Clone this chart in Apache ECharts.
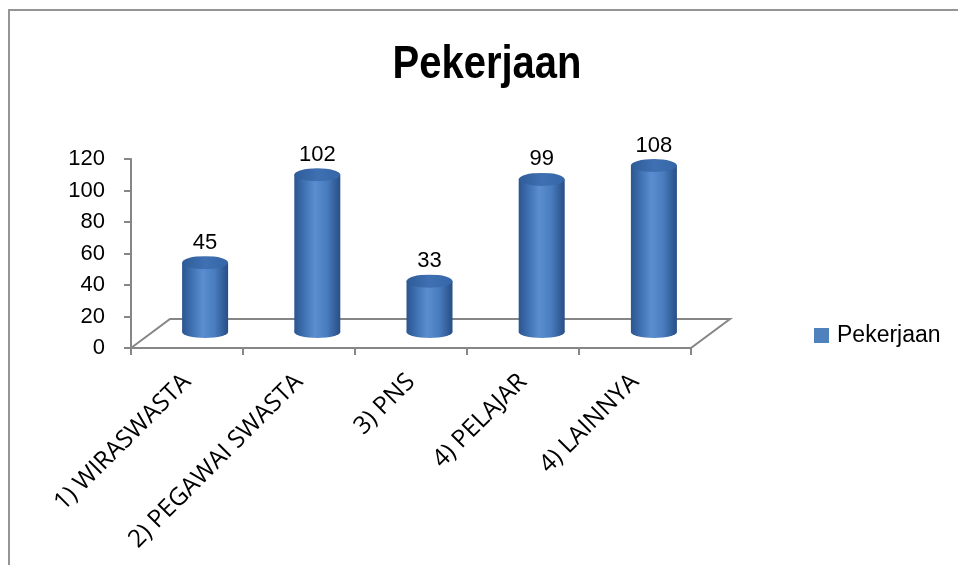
<!DOCTYPE html>
<html>
<head>
<meta charset="utf-8">
<script src="https://cdn.jsdelivr.net/npm/echarts@6/dist/echarts.min.js"></script>
<style>
html,body{margin:0;padding:0;background:#fff;}
#chart{width:958px;height:565px;}
</style>
</head>
<body>
<div id="chart"></div>
<script>
const categories = ['1) WIRASWASTA', '2) PEGAWAI SWASTA', '3) PNS', '4) PELAJAR', '4) LAINNYA'];
const values = [45, 102, 33, 99, 108];
const seriesName = 'Pekerjaan';
const titleText = 'Pekerjaan';
const yMin = 0, yMax = 120, yStep = 20;

const chart = echarts.init(document.getElementById('chart'), null, {renderer: 'canvas'});

const depthX = 39, depthY = 29;
const gray = '#868686';
const bodyGrad = new echarts.graphic.LinearGradient(0, 0, 1, 0, [
  {offset: 0, color: '#2B5590'},
  {offset: 0.2, color: '#3E6FB0'},
  {offset: 0.45, color: '#5B8ED0'},
  {offset: 0.7, color: '#4A7DC0'},
  {offset: 1, color: '#274E86'}
]);
const topGrad = new echarts.graphic.LinearGradient(0, 0, 1, 0, [
  {offset: 0, color: '#2F5C99'},
  {offset: 0.5, color: '#3F70B2'},
  {offset: 1, color: '#3566A8'}
]);

const option = {
  animation: false,
  backgroundColor: '#fff',
  legend: {
    left: 814,
    top: 324,
    padding: 0,
    itemWidth: 15,
    itemHeight: 15,
    icon: 'rect',
    data: [{name: seriesName, itemStyle: {color: '#4F81BD'}}],
    textStyle: {fontFamily: 'Liberation Sans, Arial', fontSize: 23, color: '#000', padding: [0, 0, 0, 3]}
  },
  graphic: [
    {
      type: 'rect',
      shape: {x: 9, y: 10, width: 1200, height: 1200},
      style: {fill: 'none', stroke: '#959595', lineWidth: 2},
      z: -1
    },
    {
      type: 'text',
      x: 487, y: 42,
      scaleY: 1.15,
      style: {
        text: titleText, textAlign: 'center', textVerticalAlign: 'top',
        font: 'bold 40px "Liberation Sans", Arial', fill: '#000'
      }
    }
  ],
  grid: [
    {left: 131, top: 159, width: 560, height: 189},
    {left: 149, top: 147, width: 561, height: 185}
  ],
  xAxis: [
    {
      type: 'category', gridIndex: 0, data: categories,
      axisLine: {show: true, lineStyle: {color: gray, width: 2}},
      axisTick: {show: true, length: 7, lineStyle: {color: gray, width: 2}},
      axisLabel: {rotate: 45, margin: 30, interval: 0, fontFamily: 'Open Sans', fontSize: 24.5, color: '#000'},
      splitLine: {show: false}
    },
    {type: 'category', gridIndex: 1, data: categories, show: false}
  ],
  yAxis: [
    {
      type: 'value', gridIndex: 0, min: yMin, max: yMax, interval: yStep,
      axisLine: {show: true, lineStyle: {color: gray, width: 2}},
      axisTick: {show: true, length: 7, lineStyle: {color: gray, width: 2}},
      axisLabel: {margin: 26, fontFamily: 'Liberation Sans, Arial', fontSize: 22, color: '#000'},
      splitLine: {show: false}
    },
    {type: 'value', gridIndex: 1, min: yMin, max: yMax, interval: yStep, show: false}
  ],
  series: [
    {
      type: 'custom', name: 'floor', xAxisIndex: 0, yAxisIndex: 0, z: 1, silent: true,
      data: [[0, 0]],
      renderItem: function (params, api) {
        const p = api.coord([0, 0]);
        const bw = api.size([1, 0])[0];
        const x0 = p[0] - bw / 2;
        const x1 = x0 + bw * categories.length;
        const y = p[1];
        return {
          type: 'polyline',
          shape: {points: [[x0, y], [x0 + depthX, y - depthY], [x1 + depthX, y - depthY], [x1, y], [x1, y + 7]]},
          style: {stroke: gray, lineWidth: 2, fill: null}
        };
      }
    },
    {
      type: 'bar', name: seriesName, xAxisIndex: 1, yAxisIndex: 1, z: 3,
      barWidth: 46, data: values,
      itemStyle: {color: bodyGrad},
      label: {show: true, position: 'top', distance: 9, fontFamily: 'Liberation Sans, Arial', fontSize: 22, color: '#000'}
    },
    {
      type: 'pictorialBar', name: 'capBottom', xAxisIndex: 1, yAxisIndex: 1, z: 2,
      symbol: 'circle', symbolSize: [46, 12], symbolPosition: 'start', symbolOffset: [0, '50%'],
      data: values, itemStyle: {color: bodyGrad}, silent: true
    },
    {
      type: 'pictorialBar', name: 'capTop', xAxisIndex: 1, yAxisIndex: 1, z: 4,
      symbol: 'circle', symbolSize: [46, 13], symbolPosition: 'end', symbolOffset: [0, '-50%'],
      data: values, itemStyle: {color: topGrad}, silent: true
    }
  ]
};
chart.setOption(option);
</script>
</body>
</html>
